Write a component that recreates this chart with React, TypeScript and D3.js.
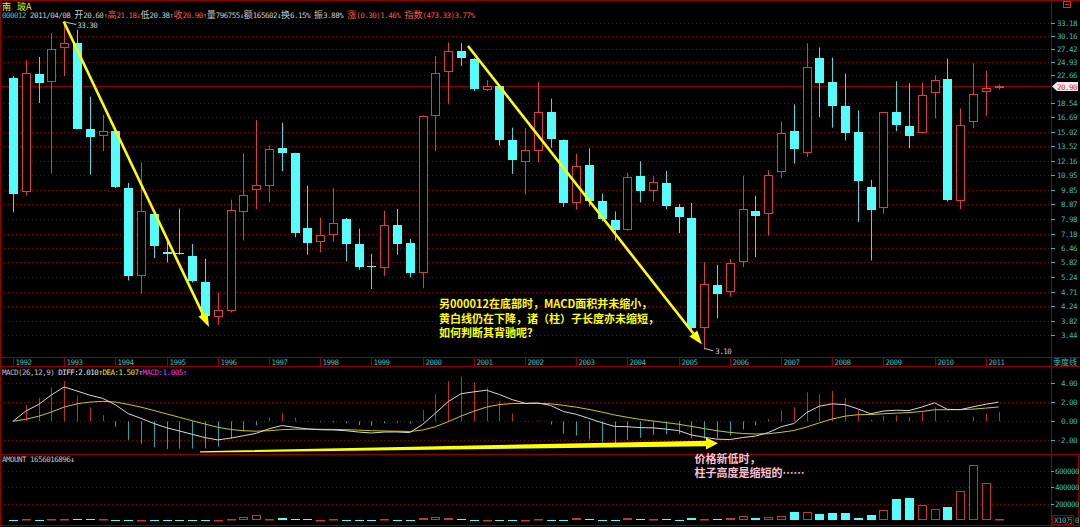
import React from "react";
import * as d3 from "d3";

// ---------- data (quarterly candles 1992Q1 .. 2011Q2) ----------
const yearLabels = ["1992","1993","1994","1995","1996","1997","1998","1999","2000","2001","2002","2003","2004","2005","2006","2007","2008","2009","2010","2011"];

const opens = [22.14,9.68,22.80,21.61,27.48,28.61,15.28,14.55,15.06,10.00,5.26,8.29,6.28,6.25,6.10,5.07,3.91,4.08,8.40,9.87,10.17,13.37,12.86,7.47,6.73,7.12,7.98,6.65,5.68,5.61,7.64,6.68,5.41,16.83,23.18,26.94,25.55,20.39,20.94,14.13,12.08,13.08,17.38,14.13,8.96,11.84,9.07,7.90,7.37,10.88,9.75,10.39,8.71,8.06,3.61,4.95,4.71,5.86,8.48,8.28,11.20,15.09,12.90,25.73,21.55,18.15,14.95,10.04,8.65,17.33,15.69,14.92,19.95,21.98,9.10,16.08,20.10,20.60];
const highs = [22.51,25.23,25.85,30.71,33.30,31.46,19.38,17.00,15.10,10.37,12.04,8.32,6.86,8.60,6.65,5.98,4.68,9.18,12.86,16.35,13.60,16.04,12.90,10.17,8.04,10.00,8.04,7.44,6.19,8.48,8.58,6.90,16.92,26.03,28.70,28.56,25.60,21.87,20.98,15.47,15.47,21.55,19.10,14.20,12.80,13.31,9.59,8.43,11.15,12.13,10.88,11.31,8.90,8.96,5.84,5.72,5.97,10.93,9.45,11.36,16.19,18.33,28.56,27.68,25.73,22.91,17.54,10.60,17.33,21.66,21.35,21.46,22.63,25.55,17.80,24.69,23.35,21.18];
const lows = [8.37,9.47,18.50,11.09,22.51,15.30,11.01,13.05,10.00,5.11,4.64,6.01,5.82,6.16,5.03,3.93,3.70,4.05,6.83,8.58,9.00,11.28,6.98,6.16,6.26,6.78,5.86,5.52,4.80,5.28,6.16,5.22,4.83,13.05,18.33,24.21,20.19,20.19,13.60,11.07,9.52,12.04,13.37,8.71,8.54,8.75,7.84,6.83,7.33,9.00,9.07,8.58,7.21,3.59,3.10,3.88,4.54,5.63,6.05,7.07,10.72,11.93,12.53,16.67,15.47,14.10,7.81,5.91,8.29,15.09,13.33,14.84,16.55,9.05,8.58,15.42,16.83,20.38];
const closes = [9.57,23.08,21.35,27.28,28.56,15.36,14.45,15.13,10.07,5.26,8.46,6.56,6.21,6.22,5.09,3.95,4.12,8.52,9.52,10.22,13.28,12.90,7.21,6.72,7.10,7.75,6.67,5.65,5.63,7.64,6.65,5.40,16.83,23.08,26.94,25.60,20.44,21.00,14.10,12.22,13.18,17.38,14.24,8.96,11.76,9.12,7.98,7.38,10.83,9.75,10.44,8.79,8.10,3.63,4.97,4.64,5.79,8.58,8.13,11.01,14.92,13.24,24.10,21.39,18.15,14.87,10.49,8.52,17.33,15.73,14.55,19.66,21.93,9.16,15.81,19.81,20.69,20.90];
const amounts = [5000,8000,6000,8000,10000,8000,7000,7000,4000,4000,6000,4000,3000,3000,4000,4000,4000,12000,33000,57000,8000,24000,8000,8000,4000,8000,3000,3000,3000,8000,5000,3000,20000,37000,20000,12000,3000,4000,3000,5000,4000,12000,6000,6000,30000,10000,6000,6000,20000,8000,8000,8000,6000,20000,15000,10000,25000,52000,28000,40000,52000,101000,93000,73000,81000,81000,28000,61000,118000,252000,264000,179000,130000,162000,350000,679000,447000,12000];

const diffs = [0.00,1.08,1.77,2.77,3.62,3.19,2.75,2.42,1.74,0.80,0.31,-0.23,-0.68,-1.02,-1.37,-1.72,-1.96,-1.77,-1.52,-1.26,-0.79,-0.45,-0.63,-0.80,-0.89,-0.91,-0.99,-1.13,-1.23,-1.13,-1.12,-1.19,-0.33,0.85,2.07,2.90,3.10,3.27,2.82,2.28,1.90,1.93,1.67,1.03,0.74,0.30,-0.15,-0.54,-0.57,-0.67,-0.69,-0.82,-0.98,-1.44,-1.68,-1.88,-1.92,-1.71,-1.56,-1.19,-0.58,-0.23,0.92,1.59,1.84,1.75,1.31,0.79,1.08,1.17,1.13,1.50,1.95,1.26,1.23,1.52,1.80,2.01];
const deas = [0.00,0.22,0.53,0.98,1.50,1.84,2.02,2.10,2.03,1.78,1.49,1.14,0.78,0.42,0.06,-0.29,-0.63,-0.86,-0.99,-1.04,-0.99,-0.88,-0.83,-0.83,-0.84,-0.85,-0.88,-0.93,-0.99,-1.02,-1.04,-1.07,-0.92,-0.57,-0.04,0.55,1.06,1.50,1.76,1.87,1.87,1.89,1.84,1.68,1.49,1.25,0.97,0.67,0.42,0.20,0.03,-0.14,-0.31,-0.54,-0.77,-0.99,-1.17,-1.28,-1.34,-1.31,-1.16,-0.97,-0.60,-0.16,0.24,0.54,0.69,0.71,0.79,0.86,0.92,1.03,1.22,1.22,1.23,1.28,1.39,1.51];
const macdBars = [0.00,1.72,2.48,3.58,4.24,2.70,1.46,0.64,-0.58,-1.96,-2.36,-2.74,-2.92,-2.88,-2.86,-2.86,-2.66,-1.82,-1.06,-0.44,0.40,0.86,0.40,0.06,-0.10,-0.12,-0.22,-0.40,-0.48,-0.22,-0.16,-0.24,1.18,2.84,4.22,4.70,4.08,3.54,2.12,0.82,0.06,0.08,-0.34,-1.30,-1.50,-1.90,-2.24,-2.42,-1.98,-1.74,-1.44,-1.36,-1.34,-1.80,-1.82,-1.78,-1.50,-0.86,-0.44,0.24,1.16,1.48,3.04,2.86,3.20,2.42,1.24,0.16,0.58,0.62,0.42,0.94,1.46,0.08,0.00,0.48,0.82,1.00];

const priceTicks = [33.18,30.16,27.42,24.93,22.66,18.54,16.69,15.02,13.52,12.16,10.95,9.85,8.87,7.98,7.18,6.46,5.82,5.24,4.71,4.24,3.82,3.44];
const macdTicks = [4, 2, 0, -2];
const macdTickLabels = ["4.00", "2.00", "0.00", "-2.00"];
const amountTicks = [600000, 400000, 200000];
const lastPrice = 20.90;
const highMark = { i: 4, v: 33.30, label: "33.30" };
const lowMark = { i: 54, v: 3.10, label: "3.10" };

// ---------- style ----------
const W = 1080, H = 527;
const MONO = "'DejaVu Sans Mono','Liberation Mono',monospace";
const CJK = "'Noto Sans CJK SC','Noto Sans',sans-serif";
const MS = 7.5;           // mono font size
const LS = -0.5;          // letter spacing
const ADV = 0.602 * MS + LS; // advance per mono char (~4.0px)
const RED = "#dc3c3c";
const CYAN = "#54fcfc";
const CYAN_W = "#44dcdc";
const GRID = "#800000";
const BORDER = "#900000";
const AXT = "#3ab8b8";
const GRAY = "#c8c8c8";
const RTXT = "#ff5454";
const YEL = "#ffff00";

const isCJK = (ch: string) => (ch.codePointAt(0) || 0) > 0x2e80;

function runs(s: string) {
  const out: { t: string; cjk: boolean }[] = [];
  for (const ch of s) {
    const c = isCJK(ch);
    if (out.length && out[out.length - 1].cjk === c) out[out.length - 1].t += ch;
    else out.push({ t: ch, cjk: c });
  }
  return out;
}

// one <text> per line; mono runs small & tight, CJK runs in CJK font
function Line({ x, y, segs, csz = 9 }: any) {
  return (
    <text x={x} y={y} style={{ whiteSpace: "pre" }}>
      {segs.flatMap(([t, col]: any, k: number) =>
        runs(t).map((r, j) => (
          <tspan key={k + "-" + j} fill={col}
            fontFamily={r.cjk ? CJK : MONO}
            fontSize={r.cjk ? csz : MS}
            letterSpacing={r.cjk ? 0 : LS}>{r.t}</tspan>
        ))
      )}
    </text>
  );
}

// mono label; right-aligned labels positioned from their computed width
function MT({ x, y, t, fill, right = false }: any) {
  const x0 = right ? x - t.length * ADV : x;
  return (
    <text x={x0} y={y} fill={fill} fontSize={MS} fontFamily={MONO} letterSpacing={LS}>{t}</text>
  );
}

function Arrow({ x1, y1, x2, y2, w = 2.6, hl = 14, hw = 5 }: any) {
  const dx = x2 - x1, dy = y2 - y1, L = Math.hypot(dx, dy);
  const ux = dx / L, uy = dy / L, nx = -uy, ny = ux;
  const bx = x2 - ux * hl, by = y2 - uy * hl;
  return (
    <g>
      <line x1={x1} y1={y1} x2={bx} y2={by} stroke={YEL} strokeWidth={w} />
      <polygon points={`${x2},${y2} ${bx + nx * hw},${by + ny * hw} ${bx - nx * hw},${by - ny * hw}`} fill={YEL} />
    </g>
  );
}

export default function App() {
  const n = closes.length;
  const x = d3.scaleLinear().domain([0, n - 1]).range([13, 998.6]);
  const yP = d3.scaleLog().domain([3.44, 33.18]).range([335, 22.5]);
  const yM = d3.scaleLinear().domain([-2, 4]).range([440.3, 383.3]);
  const yV = d3.scaleLinear().domain([0, 600000]).range([520, 471]);
  const px = (i: number) => Math.round(x(i)) + 0.5;
  const r5 = (v: number) => Math.round(v) + 0.5;

  const line = d3.line<number>().x((_, i) => x(i)).y((v) => yM(v));

  const header2 = [
    ["000012 ", "#3cc8c8"], ["2011/04/08 ", GRAY], ["开20.60", GRAY], ["↑", RTXT],
    ["高21.18", RTXT], ["↓", RTXT], ["低20.38", GRAY], ["↑", "#3cc8c8"],
    ["收20.90", RTXT], ["↑", RTXT], ["量796755", GRAY], ["↓", GRAY],
    ["额165602", GRAY], ["↓", GRAY], ["换6.15% ", GRAY], ["振3.88% ", GRAY],
    ["涨(0.30)1.46% ", RTXT], ["指数(473.33)3.77%", RTXT],
  ];
  const macdTitle = [
    ["MACD(26,12,9) ", "#c0c0c0"], ["DIFF:2.010", "#e8e8e8"], ["↑", "#e8e8e8"],
    ["DEA:1.507", "#e8e800"], ["↑", "#e8e800"], ["MACD:1.005", "#ff30ff"], ["↑", "#ff30ff"],
  ];

  const yLast = r5(yP(lastPrice));
  const hx = x(highMark.i), hy = yP(highMark.v);
  const lx = x(lowMark.i), ly = yP(lowMark.v);

  // tapered arrow in MACD panel
  const wx1 = 200, wy1 = 451.9, wx2 = 706, wy2 = 443.5;
  const wedge = `${wx1},${wy1 - 0.7} ${wx2},${wy2 - 2.8} ${wx2},${wy2 - 6} ${wx2 + 12},${wy2 - 0.2} ${wx2},${wy2 + 6} ${wx2},${wy2 + 2.8} ${wx1},${wy1 + 0.7}`;

  return (
    <svg width={W} height={H} style={{ position: "absolute", left: 0, top: 0, display: "block" }}>
      <rect width={W} height={H} fill="#000" />

      {/* price gridlines */}
      {priceTicks.map((v) => (
        <line key={v} x1={0} x2={1051} y1={r5(yP(v))} y2={r5(yP(v))} stroke={GRID} strokeDasharray="1,3" />
      ))}
      <line x1={0} x2={1051} y1={yLast} y2={yLast} stroke="#8c0000" />

      {/* candles */}
      {closes.map((c, i) => {
        const o = opens[i], h = highs[i], l = lows[i];
        const cx = px(i);
        const up = c >= o;
        const yt = Math.round(yP(Math.max(o, c)));
        const yb = Math.round(yP(Math.min(o, c)));
        const hgt = Math.max(1, yb - yt);
        if (up) {
          return (
            <g key={i}>
              <line x1={cx} x2={cx} y1={yP(h)} y2={yt} stroke={RED} />
              <line x1={cx} x2={cx} y1={yt + hgt} y2={yP(l)} stroke={RED} />
              <rect x={cx - 4} y={yt + 0.5} width={8} height={Math.max(1, hgt - 1)} fill="#000" stroke={RED} />
            </g>
          );
        }
        return (
          <g key={i}>
            <line x1={cx} x2={cx} y1={yP(h)} y2={yP(l)} stroke={CYAN_W} />
            <rect x={cx - 4.5} y={yt} width={9} height={hgt} fill={CYAN} />
          </g>
        );
      })}

      {/* high / low markers */}
      <line x1={hx + 1} x2={hx + 12} y1={hy} y2={hy + 2.5} stroke={GRAY} />
      <MT x={hx + 13} y={hy + 6} t={highMark.label} fill={GRAY} />
      <line x1={lx} x2={lx + 9} y1={ly - 1} y2={ly + 1.5} stroke={GRAY} />
      <MT x={lx + 11} y={ly + 4.5} t={lowMark.label} fill={GRAY} />

      {/* header */}
      <text x={2} y={10.3} fill="#f0f000" fontSize={9} fontFamily={CJK}>南</text>
      <text x={17} y={10.3} fill="#f0f000" fontSize={9} fontFamily={CJK}>玻A</text>
      <Line x={2} y={18.4} segs={header2} csz={9} />

      {/* borders and frames */}
      <line x1={0} x2={W} y1={0.5} y2={0.5} stroke={BORDER} />
      <line x1={0.5} x2={0.5} y1={0} y2={H} stroke={BORDER} />
      <line x1={1051.5} x2={1051.5} y1={0} y2={H} stroke={BORDER} />
      <line x1={0} x2={W} y1={357.5} y2={357.5} stroke={BORDER} />
      <line x1={0} x2={W} y1={366.5} y2={366.5} stroke={BORDER} />
      <line x1={0} x2={W} y1={454.5} y2={454.5} stroke={BORDER} />
      <line x1={0} x2={W} y1={525.5} y2={525.5} stroke={BORDER} />
      <line x1={1078.5} x2={1078.5} y1={454} y2={526} stroke={BORDER} />
      <rect x={1063.5} y={1.5} width={7} height={6} fill="none" stroke="#d03030" />
      <line x1={1065} x2={1069} y1={4.5} y2={4.5} stroke="#d03030" />

      {/* price axis */}
      {priceTicks.map((v) => (
        <g key={v}>
          <line x1={1051} x2={1055} y1={r5(yP(v))} y2={r5(yP(v))} stroke={AXT} />
          <MT x={1077} y={Math.round(yP(v)) + 3} t={v.toFixed(2)} fill={AXT} right />
        </g>
      ))}
      <polygon points={`1052,${yLast} 1057,${yLast - 4.5} 1078,${yLast - 4.5} 1078,${yLast + 4.5} 1057,${yLast + 4.5}`} fill="#f4ecec" />
      <MT x={1077} y={yLast + 3} t={lastPrice.toFixed(2)} fill="#e03030" right />

      {/* x axis (years) */}
      {yearLabels.map((yl, k) => {
        const xi = px(k * 4);
        return (
          <g key={yl}>
            <line x1={xi} x2={xi} y1={357} y2={366} stroke={BORDER} />
            <MT x={xi + 2} y={365} t={yl} fill={AXT} />
          </g>
        );
      })}
      <text x={1053} y={365} fill={AXT} fontSize={8} fontFamily={CJK}>季度线</text>

      {/* MACD panel */}
      {macdTicks.map((v, k) => (
        <g key={v}>
          <line x1={0} x2={1051} y1={r5(yM(v))} y2={r5(yM(v))} stroke={GRID} strokeDasharray="1,3" />
          <line x1={1051} x2={1055} y1={r5(yM(v))} y2={r5(yM(v))} stroke={AXT} />
          <MT x={1077} y={Math.round(yM(v)) + 3} t={macdTickLabels[k]} fill={AXT} right />
        </g>
      ))}
      {macdBars.map((v, i) => (
        <line key={i} x1={px(i)} x2={px(i)} y1={yM(0)} y2={yM(v)} stroke={v >= 0 ? "#c02c2c" : "#24a4a4"} />
      ))}
      <path d={line(deas) || ""} fill="none" stroke="#c8c81e" strokeWidth={1} />
      <path d={line(diffs) || ""} fill="none" stroke="#d8d8d8" strokeWidth={1} />
      <Line x={2} y={374.5} segs={macdTitle} />

      {/* volume panel */}
      {amountTicks.map((v) => (
        <g key={v}>
          <line x1={0} x2={1051} y1={r5(yV(v))} y2={r5(yV(v))} stroke={GRID} strokeDasharray="1,3" />
          <line x1={1051} x2={1054} y1={r5(yV(v))} y2={r5(yV(v))} stroke={AXT} />
          <MT x={1079} y={Math.round(yV(v)) + 3} t={String(v)} fill={AXT} right />
        </g>
      ))}
      {amounts.map((v, i) => {
        const up = closes[i] >= opens[i];
        const cx = px(i);
        const yt = Math.round(yV(v));
        const hgt = Math.max(1, Math.round(yV(0)) - yt);
        return up ? (
          <rect key={i} x={cx - 4} y={yt + 0.5} width={8} height={Math.max(0.5, hgt - 1)} fill="#000" stroke="#c83434" />
        ) : (
          <rect key={i} x={cx - 4.5} y={yt} width={9} height={hgt} fill={CYAN} />
        );
      })}
      <Line x={2} y={462} segs={[["AMOUNT 1656016896", "#c0c0c0"], ["↓", "#e0e0e0"]]} />
      <rect x={1052.5} y={515.5} width={21} height={9} fill="#000" stroke={BORDER} />
      <Line x={1054} y={523} segs={[["X10万", AXT]]} csz={7} />
      <MT x={1079} y={523} t="0" fill={AXT} right />

      {/* annotations */}
      <Arrow x1={hx - 0.5} y1={hy - 0.5} x2={209} y2={327} />
      <Arrow x1={468} y1={46} x2={702} y2={344.5} />
      <polygon points={wedge} fill={YEL} />
      <g fontFamily={CJK} fontWeight="bold" fontSize={11} fill={YEL}>
        <text x={439} y={307.5}>另000012在底部时，MACD面积并未缩小，</text>
        <text x={439} y={322.5}>黄白线仍在下降，诸（柱）子长度亦未缩短，</text>
        <text x={439} y={337}>如何判断其背驰呢？</text>
      </g>
      <g fontFamily={CJK} fontWeight="bold" fontSize={11} fill="#ffc0d4">
        <text x={694.5} y={462.5}>价格新低时，</text>
        <text x={694.5} y={476.5}>柱子高度是缩短的……</text>
      </g>
    </svg>
  );
}
